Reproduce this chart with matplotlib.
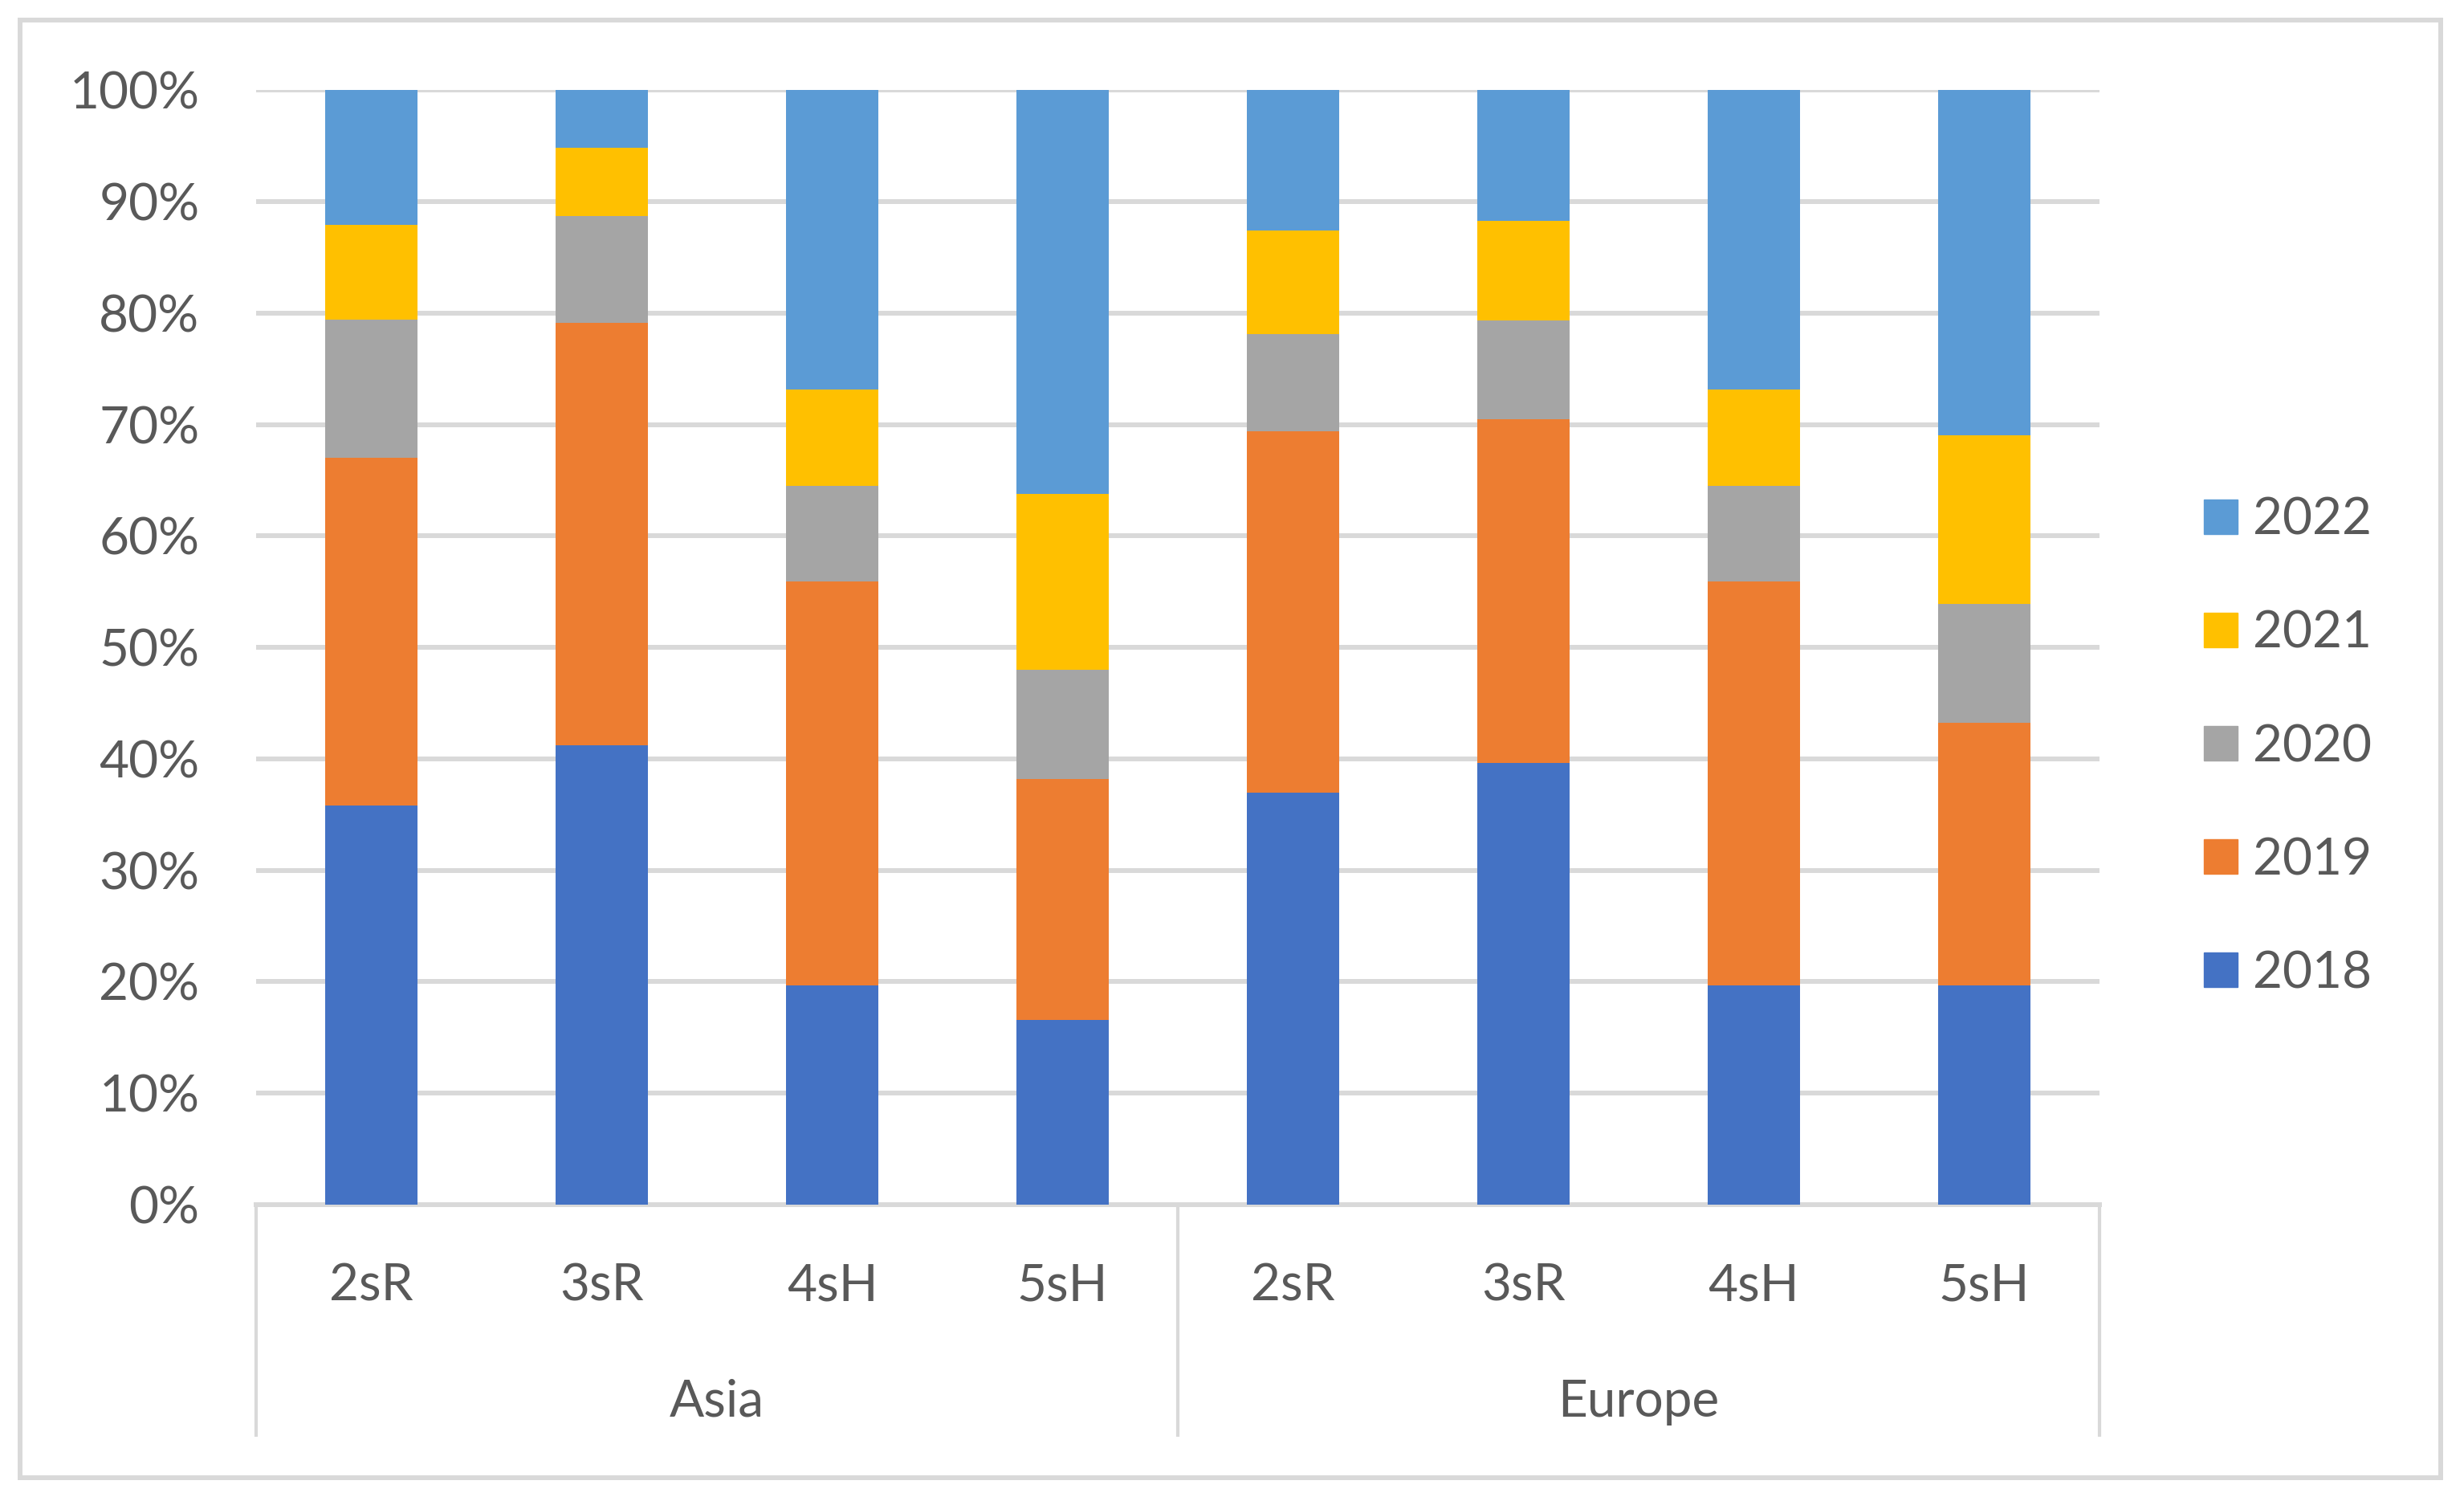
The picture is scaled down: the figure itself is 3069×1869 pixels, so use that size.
import numpy as np
import matplotlib.pyplot as plt
from matplotlib.patches import Rectangle, Patch
from matplotlib.ticker import PercentFormatter

plt.rcParams['font.family'] = ['Lato', 'DejaVu Sans']

# Chart data (percent share of each year, stacked to 100%)
groups = ['Asia', 'Europe']
categories = ['2sR', '3sR', '4sH', '5sH', '2sR', '3sR', '4sH', '5sH']
years = ['2018', '2019', '2020', '2021', '2022']
share_2018 = [35.8, 41.2, 19.7, 16.6, 37.0, 39.6, 19.7, 19.7]
share_2019 = [31.2, 37.9, 36.2, 21.6, 32.4, 30.9, 36.2, 23.5]
share_2020 = [12.4, 9.6, 8.6, 9.8, 8.7, 8.8, 8.6, 10.7]
share_2021 = [8.5, 6.1, 8.6, 15.8, 9.3, 9.0, 8.6, 15.1]
share_2022 = [12.1, 5.2, 26.9, 36.2, 12.6, 11.7, 26.9, 31.0]

colors = ['#4472C4', '#ED7D31', '#A5A5A5', '#FFC000', '#5B9BD5']
text_color = '#595959'
line_color = '#D9D9D9'
fs = 46

series = [share_2018, share_2019, share_2020, share_2021, share_2022]
x = np.arange(len(categories))

fig = plt.figure(figsize=(30.69, 18.69), dpi=100)
ax = fig.add_axes([0.104, 0.1974, 0.748, 0.7426])

bottom = np.zeros(len(categories))
for vals, col, yr in zip(series, colors, years):
    ax.bar(x, vals, bottom=bottom, width=0.4, color=col, label=yr, zorder=3)
    bottom += np.array(vals)

ax.set_xlim(-0.5, len(categories) - 0.5)
ax.set_ylim(0, 100)
ax.set_yticks(np.arange(0, 101, 10))
ax.yaxis.set_major_formatter(PercentFormatter(decimals=0))
ax.tick_params(axis='y', length=0, pad=51, labelsize=fs, labelcolor=text_color)
ax.set_xticks([])
ax.grid(axis='y', color=line_color, linewidth=4.3, zorder=0)
for s in ['top', 'right', 'left']:
    ax.spines[s].set_visible(False)
ax.spines['bottom'].set_color(line_color)
ax.spines['bottom'].set_linewidth(4.3)

# two-level category axis
trans = ax.get_xaxis_transform()
for i, c in enumerate(categories):
    ax.text(i, -0.0857, c, transform=trans, ha='center', va='baseline',
            fontsize=fs, color=text_color)
n = len(categories) // len(groups)
for g, name in enumerate(groups):
    ax.text(g * n + (n - 1) / 2, -0.190, name, transform=trans, ha='center',
            va='baseline', fontsize=fs, color=text_color)
for xb in np.arange(len(groups) + 1) * n - 0.5:
    ax.plot([xb, xb], [0, -0.208], transform=trans, color=line_color,
            linewidth=3, clip_on=False, solid_capstyle='butt')

handles = [Patch(color=c, label=y) for c, y in zip(colors, years)][::-1]
fig.legend(handles=handles, loc='center left', bbox_to_anchor=(0.8944, 0.5024),
           frameon=False, fontsize=fs, labelcolor=text_color,
           handlelength=0.66, handleheight=0.65, handletextpad=0.3,
           labelspacing=1.3, borderpad=0, borderaxespad=0)

# outer chart border
fig.patches.append(Rectangle((0.0081, 0.0155), 0.9824, 0.971, transform=fig.transFigure,
                             fill=False, edgecolor=line_color, linewidth=4.3))

fig.savefig('out.png', dpi=100)
